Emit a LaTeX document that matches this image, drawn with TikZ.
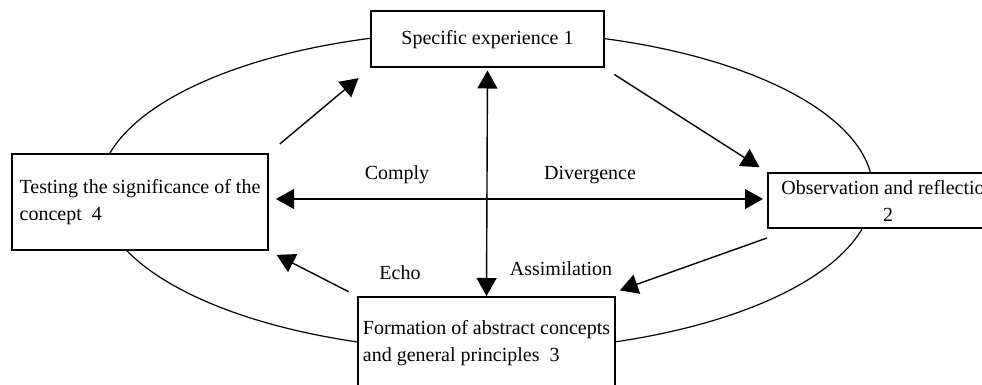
\documentclass[tikz,border=0pt]{standalone}
\usepackage{fontspec}
\setmainfont{Liberation Serif}
\usetikzlibrary{arrows.meta}
\tikzset{
  box/.style={draw, line width=1pt, fill=white, inner sep=0pt, align=left,
    font=\fontsize{10}{13.5}\selectfont},
  arr/.style={line width=0.7pt, -{Triangle[length=9pt,width=10pt]}},
  darr/.style={line width=0.7pt, {Triangle[length=9pt,width=10pt]}-{Triangle[length=9pt,width=10pt]}},
  lbl/.style={font=\fontsize{10}{12}\selectfont}
}
\begin{document}
\begin{tikzpicture}[x=0.5pt,y=-0.5pt]
\clip (0,0) rectangle (982,385);
\draw[line width=0.6pt] (486,191) ellipse [x radius=193.5pt, y radius=80pt];
\node[box, minimum width=116.5pt, minimum height=28pt] (exper) at (487.5,39.5) {Specific experience 1};
\node[box, minimum width=120pt, minimum height=27.5pt, align=center] (observ) at (888,200.5) {Observation and reflection\\2};
\node[box, minimum width=128.5pt, minimum height=46pt] (formation) at (486.5,343) {Formation of abstract concepts\\and general principles\ \ 3};
\node[box, minimum width=128pt, minimum height=48pt] (testing) at (140,202) {Testing the significance of the\\concept\ \ 4};
\coordinate (hub) at (487,199);
\draw[arr, shorten <=7pt, shorten >=7.5pt] (testing.north east) -- (exper.south west);
\draw[arr, shorten <=5.5pt, shorten >=4.5pt] (exper.south east) -- (observ.north west);
\draw[arr, shorten >=1pt] ([yshift=-4.5pt]observ.south west) -- ([xshift=1pt,yshift=2.5pt]formation.north east);
\draw[arr, shorten <=4.7pt, shorten >=4.3pt] (formation.north west) -- (testing.south east);
\draw[darr, shorten <=1pt] (exper.south) -- (formation.north);
\draw[darr, shorten <=3.5pt, shorten >=2pt] (testing.east |- hub) -- (observ.west |- hub);
\node[lbl] (comply) at (397,175) {Comply};
\node[lbl] (diverge) at (590,175) {Divergence};
\node[lbl] (echo) at (400,273) {Echo};
\node[lbl] (assim) at (561,269) {Assimilation};
\end{tikzpicture}
\end{document}
